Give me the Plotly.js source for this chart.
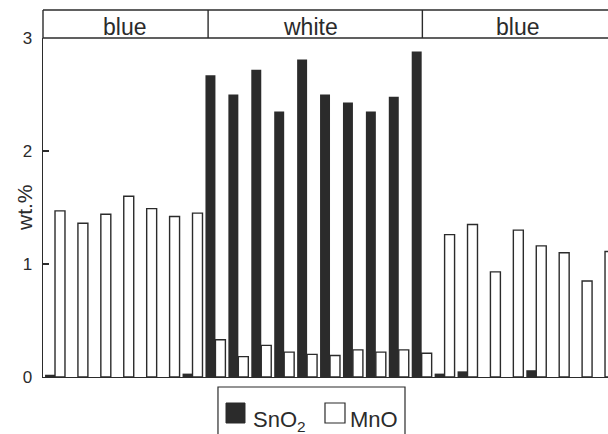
<!DOCTYPE html>
<html>
<head>
<meta charset="utf-8">
<script src="https://cdn.plot.ly/plotly-3.0.1.min.js"></script>
<style>html,body{margin:0;padding:0;background:#fff;}#chart{width:608px;height:434px;}</style>
</head>
<body>
<div id="chart"></div>
<script>
// Samples in order (sample index along the x axis)
var samples = [1,2,3,4,5,6,7,8,9,10,11,12,13,14,15,16,17,18,19,20,21,22,23,24,25];
var sno2 = [0.02,0,0,0,0,0,0.03, 2.67,2.50,2.72,2.35,2.81,2.50,2.43,2.35,2.48,2.88, 0.03,0.05,0,0,0.06,0,0,0];
var mno  = [1.47,1.36,1.44,1.60,1.49,1.42,1.45, 0.33,0.18,0.28,0.22,0.20,0.19,0.24,0.22,0.24,0.21, 1.26,1.35,0.93,1.30,1.16,1.10,0.85,1.11];
var groupNames = ["blue","white","blue"];
var yTicks = [0,1,2,3];
var yTitle = "wt.%";

var xIdx = samples.map(function(s,i){return i;});
var ink = "#2b2b2b";
var font = "Liberation Sans, Arial, Helvetica, sans-serif";

var traces = [
  {type:"bar", name:"SnO<sub>2</sub>", x:xIdx, y:sno2, width:0.435, offset:-0.435,
   marker:{color:ink, line:{width:0}}, showlegend:false, hoverinfo:"y"},
  {type:"bar", name:"MnO", x:xIdx, y:mno, width:0.435, offset:0,
   marker:{color:"#ffffff", line:{color:ink, width:1.4}}, showlegend:false, hoverinfo:"y"}
];

var hTop = 1.0826; // header top in paper units
var shapes = [
  {type:"line", xref:"paper", yref:"paper", x0:0, x1:1.01, y0:hTop, y1:hTop, line:{color:ink,width:1.4}},
  {type:"line", xref:"paper", yref:"paper", x0:0, x1:1.01, y0:1, y1:1, line:{color:ink,width:1.4}},
  {type:"line", xref:"paper", yref:"paper", x0:0, x1:0, y0:1, y1:hTop, line:{color:ink,width:1.4}},
  {type:"line", xref:"x", yref:"paper", x0:6.68, x1:6.68, y0:1, y1:hTop, line:{color:ink,width:1.4}},
  {type:"line", xref:"x", yref:"paper", x0:16.03, x1:16.03, y0:1, y1:hTop, line:{color:ink,width:1.4}},
  // legend box
  {type:"rect", xref:"paper", yref:"paper", x0:0.3097, x1:0.6407, y0:-0.0295, y1:-0.20, line:{color:ink,width:1.2}, fillcolor:"rgba(0,0,0,0)"},
  {type:"rect", xref:"paper", yref:"paper", x0:0.3239, x1:0.3575, y0:-0.0767, y1:-0.1357, line:{color:ink,width:1}, fillcolor:ink},
  {type:"rect", xref:"paper", yref:"paper", x0:0.4991, x1:0.5345, y0:-0.0767, y1:-0.1357, line:{color:ink,width:1.2}, fillcolor:"#fff"}
];

var headerX = [3.05, 11.17, 20.2];
var annotations = groupNames.map(function(g,i){
  return {text:g, xref:"x", yref:"paper", x:headerX[i], y:1.031, showarrow:false,
          xanchor:"center", yanchor:"middle", font:{family:font, size:23, color:ink}};
});
annotations.push({text:traces[0].name, xref:"paper", yref:"paper", x:0.3675, y:-0.083, showarrow:false,
  xanchor:"left", yanchor:"top", font:{family:font, size:22, color:ink}});
annotations.push({text:traces[1].name, xref:"paper", yref:"paper", x:0.5400, y:-0.083, showarrow:false,
  xanchor:"left", yanchor:"top", font:{family:font, size:22, color:ink}});
annotations.push({text:yTitle, xref:"paper", yref:"paper", x:-0.0336, y:0.4985, textangle:-90, showarrow:false,
  xanchor:"center", yanchor:"middle", font:{family:font, size:21, color:ink}});

var layout = {
  width:608, height:434,
  margin:{l:43, r:0, t:38, b:57, pad:0},
  paper_bgcolor:"#ffffff", plot_bgcolor:"#ffffff",
  showlegend:false,
  xaxis:{range:[-0.524, 24.13], showline:true, linecolor:ink, linewidth:1.4, showgrid:false,
         zeroline:false, showticklabels:false, ticks:"", fixedrange:true},
  yaxis:{range:[0,3], tickvals:yTicks, ticktext:yTicks.map(String), ticks:"inside", ticklen:6, tickwidth:1.2,
         tickcolor:ink, showline:true, linecolor:ink, linewidth:1.4, showgrid:false, zeroline:false,
         ticklabelstandoff:6,
         tickfont:{family:font, size:17, color:ink}},
  shapes:shapes,
  annotations:annotations
};

Plotly.newPlot("chart", traces, layout, {staticPlot:true});
</script>
</body>
</html>
